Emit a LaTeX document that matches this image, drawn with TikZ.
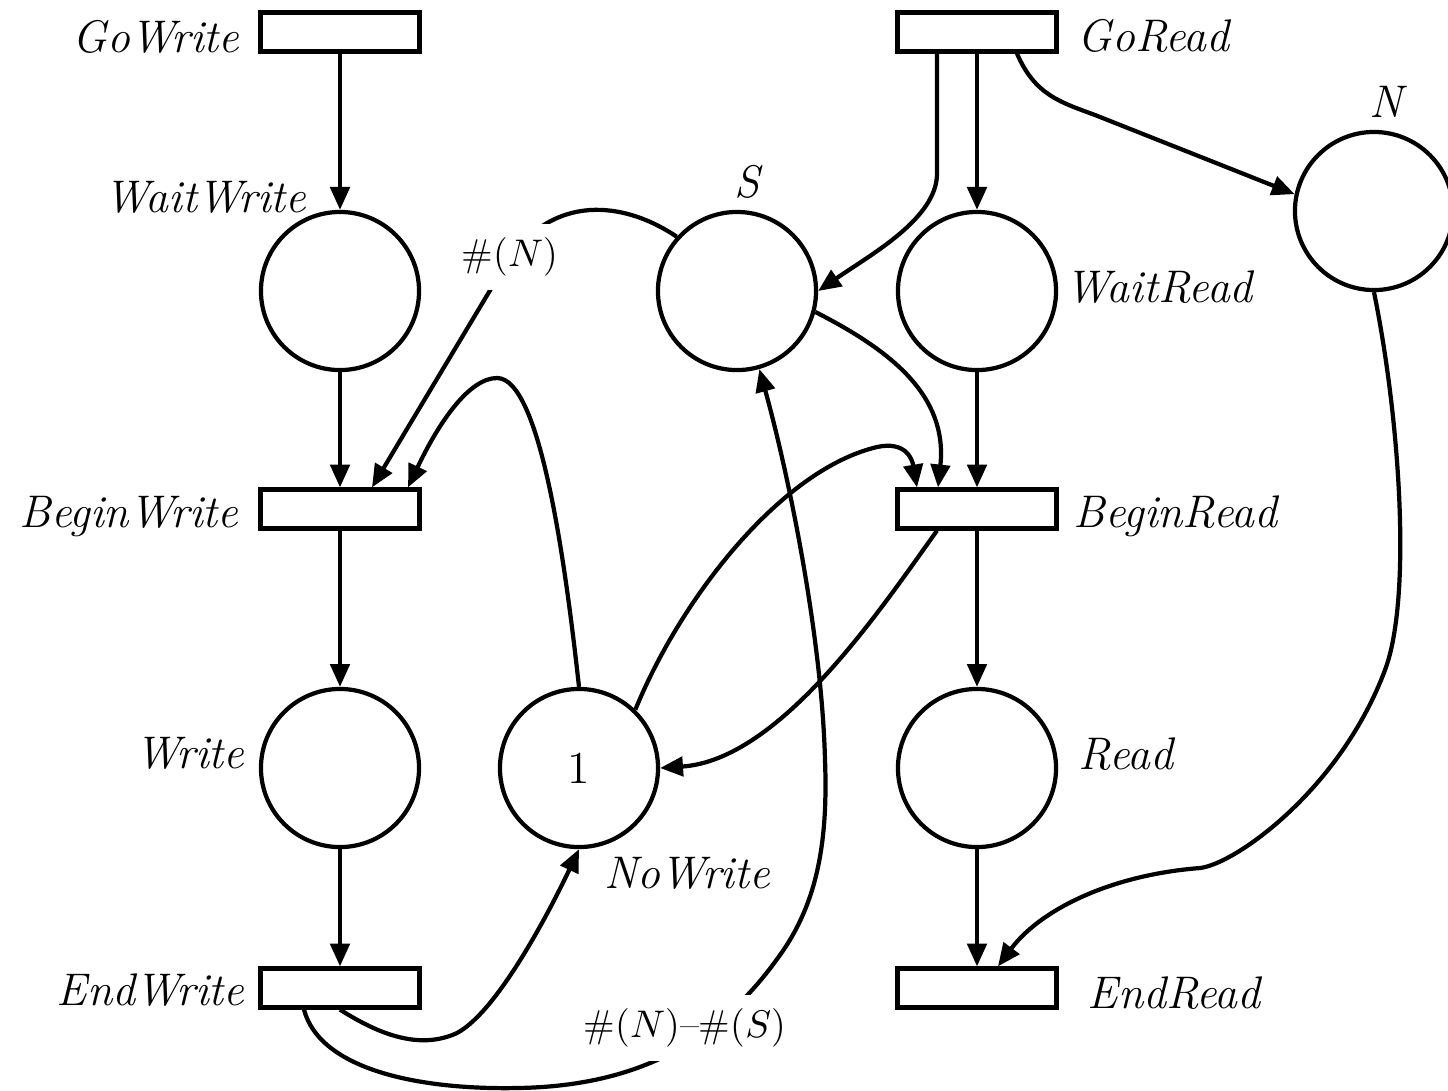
\documentclass[tikz,border=0pt]{standalone}
\usetikzlibrary{arrows.meta,calc}

\newcommand*\netFont{\fontsize{13}{15}\selectfont}
\newcommand*\weightFont{\fontsize{11}{13}\selectfont}
\tikzset{
  net line/.style={line width=1.2pt},
  place/.style={net line, circle, draw, minimum size=1.58cm, inner sep=0pt, font=\netFont},
  transition/.style={net line, rectangle, draw, minimum width=1.59cm, minimum height=0.39cm, inner sep=0pt},
  name tag/.style={inner sep=0pt, font=\netFont\itshape},
  weight tag/.style={fill=white, inner sep=4pt, font=\weightFont},
  arc/.style={net line, -{Triangle[length=6.5pt,width=5.5pt]}}}

\begin{document}
\begin{tikzpicture}[x=0.01cm, y=-0.01cm]
%%%%%%%%%%%%%%%%%%%%%%%%%%%%%%%%%%%%%%%%%%%%%%%%%%%%%%%%%%%%%%%%%%%%%%%%%%%%%%%%%%%%%%%%%
%
%   SETTINGS
%
%%%%%%%%%%%%%%%%%%%%%%%%%%%%%%%%%%%%%%%%%%%%%%%%%%%%%%%%%%%%%%%%%%%%%%%%%%%%%%%%%%%%%%%%%
\newcommand*\colWrite{340}
\newcommand*\colRead{977}

\newcommand*\rowGo{32}
\newcommand*\rowWait{291}
\newcommand*\rowBegin{509}
\newcommand*\rowWork{768}
\newcommand*\rowEnd{988}

\useasboundingbox (0,0) rectangle (1448,1090);

%%%%%%%%%%%%%%%%%%%%%%%%%%%%%%%%%%%%%%%%%%%%%%%%%%%%%%%%%%%%%%%%%%%%%%%%%%%%%%%%%%%%%%%%%
%
%   PLACES + TRANSITIONS
%
%%%%%%%%%%%%%%%%%%%%%%%%%%%%%%%%%%%%%%%%%%%%%%%%%%%%%%%%%%%%%%%%%%%%%%%%%%%%%%%%%%%%%%%%%
\node[transition] (GoWrite)    at (\colWrite,\rowGo)    {};
\node[place]      (WaitWrite)  at (\colWrite,\rowWait)  {};
\node[transition] (BeginWrite) at (\colWrite,\rowBegin) {};
\node[place]      (Write)      at (\colWrite,\rowWork)  {};
\node[transition] (EndWrite)   at (\colWrite,\rowEnd)   {};

\node[transition] (GoRead)     at (\colRead,\rowGo)     {};
\node[place]      (WaitRead)   at (\colRead,\rowWait)   {};
\node[transition] (BeginRead)  at (\colRead,\rowBegin)  {};
\node[place]      (Read)       at (\colRead,\rowWork)   {};
\node[transition] (EndRead)    at (\colRead,\rowEnd)    {};

\node[place] (S)       at (737,\rowWait) {};
\node[place] (N)       at (1374,211)     {};
\node[place] (NoWrite) at (579,\rowWork) {1};

% names
\node[name tag, anchor=base east] (tGoWrite)    at (240,52)   {GoWrite};
\node[name tag, anchor=base east] (tWaitWrite)  at (307,212)  {WaitWrite};
\node[name tag, anchor=base east] (tBeginWrite) at (239,527)  {BeginWrite};
\node[name tag, anchor=base east] (tWrite)      at (245,768)  {Write};
\node[name tag, anchor=base east] (tEndWrite)   at (245,1005) {EndWrite};

\node[name tag, anchor=base west] (tGoRead)     at (1077,51)   {GoRead};
\node[name tag, anchor=base west] (tWaitRead)   at (1065,302)  {WaitRead};
\node[name tag, anchor=base west] (tBeginRead)  at (1073,527)  {BeginRead};
\node[name tag, anchor=base west] (tRead)       at (1078,769)  {Read};
\node[name tag, anchor=base west] (tEndRead)    at (1087,1008) {EndRead};

\node[name tag, anchor=base]      (tS)       at (747,197)  {S};
\node[name tag, anchor=base]      (tN)       at (1386,117) {N};
\node[name tag, anchor=base west] (tNoWrite) at (604,888)  {NoWrite};

%%%%%%%%%%%%%%%%%%%%%%%%%%%%%%%%%%%%%%%%%%%%%%%%%%%%%%%%%%%%%%%%%%%%%%%%%%%%%%%%%%%%%%%%%
%
%   ARCS
%
%%%%%%%%%%%%%%%%%%%%%%%%%%%%%%%%%%%%%%%%%%%%%%%%%%%%%%%%%%%%%%%%%%%%%%%%%%%%%%%%%%%%%%%%%
\foreach \from/\to in {GoWrite/WaitWrite, WaitWrite/BeginWrite, BeginWrite/Write, Write/EndWrite,
                       GoRead/WaitRead, WaitRead/BeginRead, BeginRead/Read, Read/EndRead}
  \draw[arc] (\from) -- (\to);

% reader side
\draw[arc] ($(GoRead.south)+(-40,0)$) -- ++(0,120) .. controls +(0,45) and (870,255) .. (S.east);
\draw[arc] ($(GoRead.south)+(40,0)$) .. controls (1035,95) and (1060,102) .. (1095,115) -- (N.168);
\draw[arc] (S.-15) .. controls (890,350) and (948,395) .. ($(BeginRead.north)+(-39,0)$);
\draw[arc] (N.south) .. controls (1400,420) and (1412,598) .. (1385,670)
                     .. controls (1340,790) and (1235,864) .. (1200,868)
                     .. controls (1110,875) and (1040,910) .. ($(EndRead.north)+(21,0)$);

% NoWrite token
\draw[arc] (NoWrite.46) .. controls (680,600) and (780,470) .. (877,447)
                        .. controls (905,441) and (912,458) .. ($(BeginRead.north)+(-60,0)$);
\draw[arc] ($(BeginRead.south)+(-40,0)$) .. controls (880,610) and (780,760) .. (NoWrite.east);
\draw[arc] (NoWrite.north) .. controls (565,560) and (540,378) .. (497,378)
                           .. controls (470,378) and (440,420) .. ($(BeginWrite.north)+(68,0)$);
\draw[arc] (EndWrite.south) .. controls (380,1035) and (420,1050) .. (457,1033)
                            .. controls (500,1010) and (555,900) .. (NoWrite.south);

% weighted arcs
\draw[arc] (S.138) .. controls (630,205) and (560,190) .. (510,257) node[weight tag] (wN) {\#($N$)}
  -- ($(BeginWrite.north)+(32,0)$);
\draw[arc] ($(EndWrite.south)+(-36,0)$) .. controls (320,1070) and (420,1090) .. (518,1088)
  .. controls (640,1086) and (720,1040) .. (780,955) node[weight tag, pos=.55, yshift=5pt] (wNS) {\#($N$)--\#($S$)}
  .. controls (818,902) and (828,840) .. (825,760)
  .. controls (822,640) and (790,480) .. (S.-74);

\end{tikzpicture}
\end{document}
